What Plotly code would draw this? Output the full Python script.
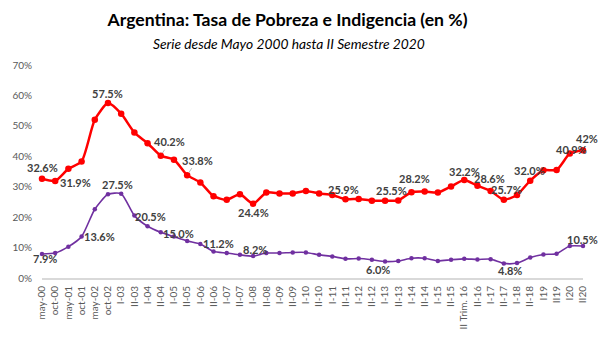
import plotly.graph_objects as go

categories = ["may-00", "oct-00", "may-01", "oct-01", "may-02", "oct-02",
              "I-03", "II-03", "I-04", "II-04", "I-05", "II-05", "I-06", "II-06",
              "I-07", "II-07", "I-08", "II-08", "I-09", "II-09", "I-10", "II-10",
              "I-11", "II-11", "I-12", "II-12", "I-13", "II-13", "I-14", "II-14",
              "I-15", "II-15", "II Trim. 16", "II-16", "I-17", "II-17", "I-18", "II-18",
              "I19", "II19", "I20", "II20"]

pobreza = [32.6, 31.9, 35.9, 38.3, 52.0, 57.5,
           54.0, 47.8, 44.3, 40.2, 38.9, 33.8, 31.4, 26.9,
           25.7, 27.5, 24.4, 28.1, 27.8, 27.8, 28.6, 27.8,
           27.3, 25.9, 26.0, 25.4, 25.4, 25.5, 28.2, 28.4,
           28.1, 30.1, 32.2, 30.3, 28.6, 25.7, 27.3, 32.0,
           35.4, 35.5, 40.9, 42.0]

indigencia = [7.9, 8.2, 10.3, 13.6, 22.6, 27.5,
              27.7, 20.5, 17.0, 15.0, 13.6, 12.2, 11.2, 8.7,
              8.2, 7.6, 7.2, 8.2, 8.2, 8.4, 8.4, 7.6,
              7.1, 6.3, 6.4, 6.0, 5.4, 5.6, 6.5, 6.5,
              5.6, 6.0, 6.3, 6.1, 6.2, 4.8, 4.9, 6.7,
              7.7, 8.0, 10.5, 10.5]

y_ticks = [0, 10, 20, 30, 40, 50, 60, 70]
y_ticktext = [f"{v}%" for v in y_ticks]

# labelled points: (index, dx, dy, leader)
pob_labels = [(0, 0, -11, False), (1, 20, 2, False), (5, 0, -10, False),
              (9, 9, -14, True), (11, 10, -15, True), (16, 0, 9, False),
              (23, -2, -10, False), (27, -7, -10, False), (28, 3, -14, False),
              (32, 0, -9, False), (34, -1, -12, False), (35, 3, -10, False),
              (37, -1, -10, False), (40, 2, -4, False), (41, 4, -12, False)]
ind_labels = [(0, 3, 5, False), (3, 18, 0, False), (5, 10, -10, True),
              (7, 16, 1, False), (9, 18, 1, False), (12, 18, 0, False),
              (14, 28, -4, False), (25, 6, 10, False), (35, 6, 7, False),
              (41, -1, -7, False)]

x = list(range(len(categories)))
FONT = "Lato"

fig = go.Figure()
fig.add_trace(go.Scatter(
    x=x, y=indigencia, mode="lines+markers",
    line=dict(color="#7030a0", width=1.6, shape="spline", smoothing=0.6),
    marker=dict(color="#7030a0", size=4.5),
    cliponaxis=False, showlegend=False, name="Indigencia"))
fig.add_trace(go.Scatter(
    x=x, y=pobreza, mode="lines+markers",
    line=dict(color="#ff0000", width=2.5, shape="spline", smoothing=0.6),
    marker=dict(color="#ff0000", size=6.5),
    cliponaxis=False, showlegend=False, name="Pobreza"))


def fmt(v):
    return f"{v:.0f}%" if v == 42.0 else f"{v:.1f}%"


annotations = []
for series, labels in ((pobreza, pob_labels), (indigencia, ind_labels)):
    for i, dx, dy, leader in labels:
        annotations.append(dict(
            x=i, y=series[i], xref="x", yref="y", text=f"<b>{fmt(series[i])}</b>",
            showarrow=True, ax=dx, ay=dy, axref="pixel", ayref="pixel",
            arrowhead=0, arrowwidth=0.8,
            arrowcolor="#a6a6a6" if leader else "rgba(0,0,0,0)",
            standoff=3 if leader else 0,
            font=dict(family=FONT, size=11, color="#404040")))

annotations.append(dict(
    text="<i>Serie desde Mayo 2000 hasta II Semestre 2020</i>",
    xref="paper", yref="paper", x=0.457, y=1.099, xanchor="center", yanchor="middle",
    showarrow=False, font=dict(family=FONT, size=13.8, color="#000000")))

fig.update_layout(
    width=604, height=353,
    margin=dict(l=38, r=21, t=65, b=75),
    paper_bgcolor="white", plot_bgcolor="white",
    title=dict(text="<b>Argentina: Tasa de Pobreza e Indigencia (en %)</b>",
               x=0.476, xref="container", xanchor="center",
               y=1 - 20 / 353, yref="container", yanchor="middle",
               font=dict(family=FONT, size=17.6, color="#000000")),
    annotations=annotations,
    xaxis=dict(range=[0, len(categories) - 1], tickmode="array", tickvals=x,
               ticktext=categories, tickangle=-90, showgrid=False, zeroline=False,
               showline=True, linecolor="#d9d9d9", linewidth=2, ticks="",
               ticklabelstandoff=2,
               tickfont=dict(family=FONT, size=10, color="#595959")),
    yaxis=dict(range=[0, 70], tickmode="array", tickvals=y_ticks, ticktext=y_ticktext,
               showgrid=False, zeroline=False, showline=False, ticks="",
               ticklabelstandoff=9,
               tickfont=dict(family=FONT, size=10, color="#595959")),
)

fig.write_html("out.html")
